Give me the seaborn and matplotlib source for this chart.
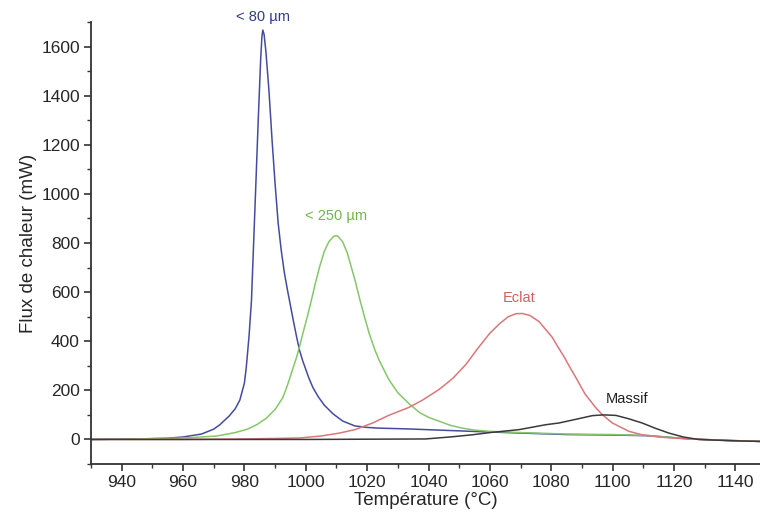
import matplotlib
matplotlib.use("Agg")
import matplotlib.pyplot as plt
import pandas as pd
import seaborn as sns
from matplotlib.ticker import MultipleLocator

# values (temperature in degC, heat flux in mW)
t_80 = [930, 945, 955, 960, 966, 970, 972, 975, 977, 978.5, 980, 980.6, 981.5, 982.3, 983, 983.7,
        984.5, 985.3, 985.7, 986, 986.4, 987, 988, 989, 990, 991, 992, 993, 994, 995, 996, 997,
        998, 999, 1000, 1001, 1002.3, 1004, 1006, 1008.8, 1012, 1016, 1020, 1024, 1033, 1054, 1070,
        1085, 1100, 1112, 1125, 1135, 1148]
f_80 = [0, 2, 5, 10, 22, 42, 60, 95, 125, 160, 230, 293, 420, 566, 800, 1031,
        1300, 1550, 1640, 1667, 1650, 1580, 1420, 1220, 1040, 880, 770, 680, 610, 545, 480, 418,
        361, 320, 285, 250, 212, 175, 140, 105, 75, 55, 49, 46, 43, 33, 26,
        20, 18, 15, 2, -3, -8]

t_250 = [930, 945, 955, 962, 971, 977, 981, 984, 987, 990, 992.5, 994, 995.7, 997, 998, 999,
         1000.5, 1001.8, 1003.2, 1004.5, 1006, 1007.5, 1009, 1009.7, 1010.5, 1012, 1013.5, 1014.8,
         1016, 1017.5, 1019, 1020.7, 1022.5, 1024, 1025, 1027, 1030, 1033.7, 1037, 1040, 1043.5,
         1047, 1051, 1055, 1060, 1070, 1085, 1100, 1112, 1125, 1135, 1148]
f_250 = [0, 2, 4, 7, 14, 28, 42, 60, 85, 122, 170, 220, 285, 335, 380, 430,
         500, 566, 640, 703, 765, 805, 826, 830, 827, 805, 760, 703,
         650, 575, 505, 430, 365, 320, 295, 245, 190, 145, 110, 90, 74,
         58, 46, 38, 33, 28, 22, 20, 16, 2, -3, -8]

t_eclat = [930, 960, 980, 990, 998, 1005, 1011, 1016, 1021.8, 1027, 1033.7, 1038, 1043.5, 1048,
           1052.2, 1056, 1059.8, 1063, 1066, 1068.5, 1070.5, 1073, 1076, 1080.3, 1082, 1084, 1086,
           1088, 1091, 1094.5, 1096.6, 1099.9, 1105.3, 1109.6, 1115, 1120.5, 1130, 1140, 1148]
f_eclat = [0, 0, 2, 4, 6, 14, 26, 40, 67, 98, 131, 160, 204, 250,
           306, 370, 430, 470, 500, 512, 513, 505, 480, 416, 380, 340, 295,
           252, 185, 129, 101, 67, 33, 19, 10, 5, 0, -5, -8]

t_massif = [930, 1000, 1039, 1047, 1054.3, 1060, 1069.5, 1078.2, 1082.5, 1088, 1093.4, 1097, 1101,
            1105, 1109.6, 1114, 1118.3, 1123, 1128, 1138, 1148]
f_massif = [0, 0, 2, 10, 19, 28, 40, 60, 67, 82, 97, 100, 98,
            85, 67, 45, 26, 10, 0, -5, -8]

names = ["< 80 µm", "< 250 µm", "Eclat", "Massif"]
colors = ["#454b9f", "#86c66a", "#d9777a", "#3a3a3a"]
label_colors = ["#2f3a8c", "#6cb84a", "#d0605e", "#222222"]
label_pos = [(986, 1722), (1009.7, 911), (1069.5, 574), (1104.6, 164)]

frames = []
for name, t, f in zip(names, [t_80, t_250, t_eclat, t_massif], [f_80, f_250, f_eclat, f_massif]):
    frames.append(pd.DataFrame({"T": t, "flux": f, "sample": name}))
data = pd.concat(frames, ignore_index=True)

sns.set_style("ticks")
plt.rcParams["font.family"] = ["Liberation Sans", "DejaVu Sans"]

fig = plt.figure(figsize=(7.6, 5.21), dpi=100)
ax = fig.add_axes([0.1197, 0.1094, 0.8803, 0.8484])

sns.lineplot(data=data, x="T", y="flux", hue="sample", palette=colors,
             hue_order=names, linewidth=1.1, legend=False, ax=ax)

for name, c, (x, y) in zip(names, label_colors, label_pos):
    ax.text(x, y, name, color=c, fontsize=10.5, ha="center", va="center", clip_on=False)

ax.set_xlim(930, 1148)
ax.set_ylim(-100, 1700)
ax.xaxis.set_major_locator(MultipleLocator(20))
ax.xaxis.set_minor_locator(MultipleLocator(10))
ax.yaxis.set_major_locator(MultipleLocator(200))
ax.yaxis.set_minor_locator(MultipleLocator(100))
ax.set_xticks(range(940, 1141, 20))
ax.tick_params(which="major", direction="out", length=5, width=1.2, labelsize=12.5,
               color="#333333", pad=3)
ax.tick_params(which="minor", direction="out", length=3, width=1.0, color="#333333")

sns.despine(ax=ax)
for side in ["left", "bottom"]:
    ax.spines[side].set_linewidth(1.3)
    ax.spines[side].set_color("#333333")

ax.set_xlabel("Température (°C)", fontsize=13.5, labelpad=1)
ax.set_ylabel("Flux de chaleur (mW)", fontsize=13.5, labelpad=3)

fig.savefig("out.png", dpi=100)
